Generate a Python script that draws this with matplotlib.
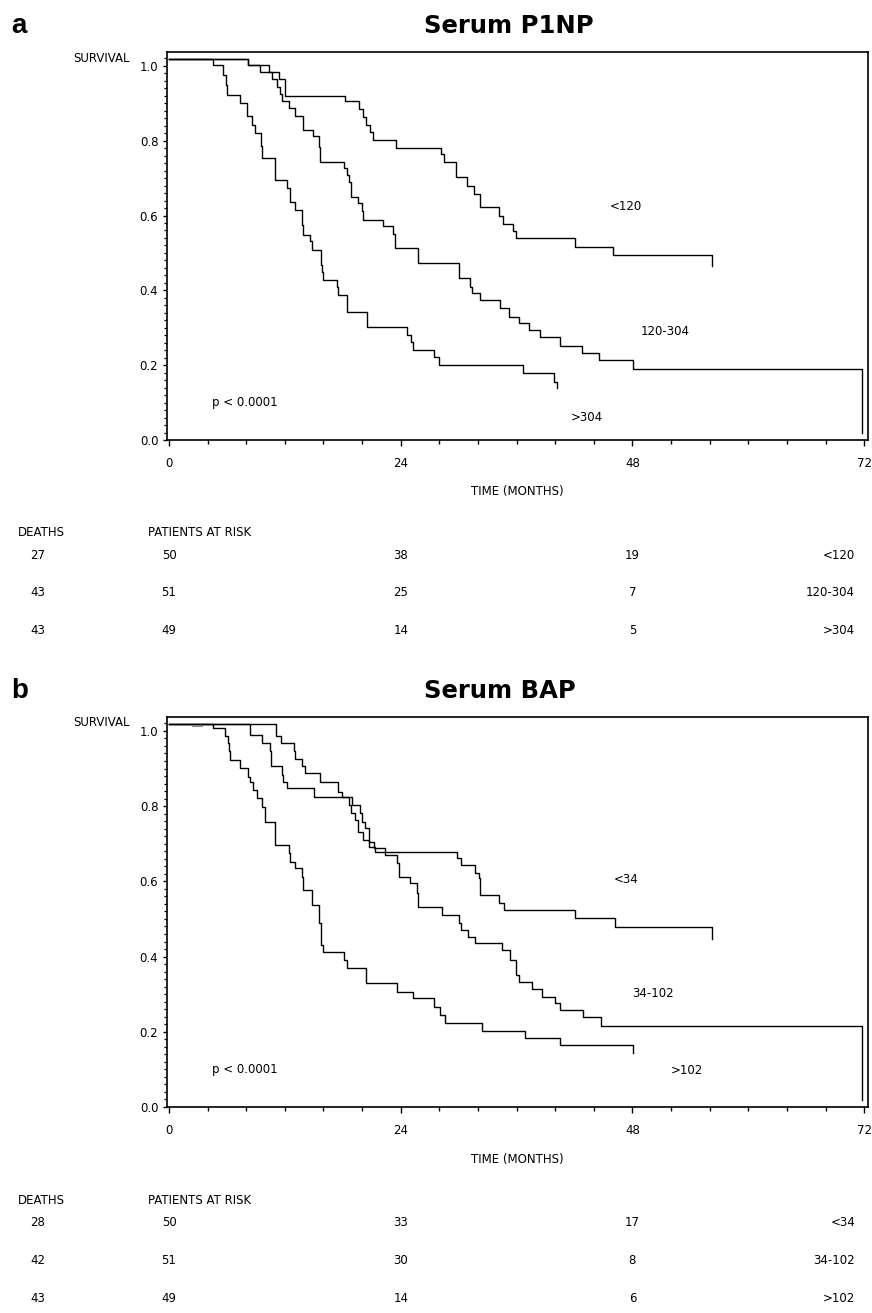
import matplotlib
matplotlib.use('Agg')
import matplotlib.pyplot as plt
import matplotlib.transforms as mtransforms
from matplotlib.ticker import MultipleLocator, FormatStrFormatter

# ------------------------------------------------------------------------
# Data (step curves: time in months, survival)

p1np_lt120_t = [0, 8.2, 10.4, 11.4, 12.0, 18.2, 19.7, 20.1, 20.4, 20.8, 21.1, 23.5, 28.2, 28.5,
                29.7, 30.9, 31.6, 32.2, 34.2, 34.6, 35.6, 35.9, 42.0, 46.0, 56.2]
p1np_lt120_s = [1.0, 0.984, 0.964, 0.945, 0.902, 0.886, 0.867, 0.844, 0.823, 0.804, 0.784, 0.762, 0.747, 0.724,
                0.683, 0.661, 0.640, 0.604, 0.581, 0.559, 0.540, 0.520, 0.497, 0.475, 0.446]

p1np_mid_t = [0, 8.2, 9.4, 10.7, 11.2, 11.5, 11.7, 12.4, 13.1, 13.9, 14.9, 15.5, 15.6, 18.1, 18.4,
              18.6, 18.9, 19.6, 20.0, 20.1, 22.2, 23.2, 23.4, 25.8, 30.0, 31.2, 31.4, 32.2, 34.3,
              35.2, 36.2, 37.3, 38.4, 40.5, 42.8, 44.5, 48.1, 71.8]
p1np_mid_s = [1.0, 0.984, 0.964, 0.945, 0.925, 0.905, 0.886, 0.868, 0.846, 0.810, 0.793, 0.765, 0.725, 0.708, 0.690,
              0.672, 0.631, 0.614, 0.592, 0.569, 0.552, 0.533, 0.494, 0.454, 0.414, 0.391, 0.373, 0.356, 0.333,
              0.311, 0.293, 0.275, 0.257, 0.232, 0.213, 0.196, 0.171, 0.0]

p1np_gt304_t = [0, 4.6, 5.6, 5.9, 6.0, 7.4, 8.05, 8.6, 8.9, 9.5, 9.6, 11.0, 12.2, 12.5, 13.1, 13.75,
                13.9, 14.6, 14.8, 15.7, 15.8, 16.0, 17.4, 17.5, 18.4, 20.5, 24.6, 25.1, 25.3, 27.4,
                28.0, 36.7, 39.9, 40.2]
p1np_gt304_s = [1.0, 0.984, 0.957, 0.930, 0.904, 0.882, 0.846, 0.824, 0.802, 0.767, 0.735, 0.676, 0.654, 0.618, 0.596, 0.556,
                0.529, 0.512, 0.490, 0.450, 0.431, 0.409, 0.391, 0.369, 0.324, 0.284, 0.262, 0.244, 0.222, 0.204,
                0.182, 0.160, 0.137, 0.119]

bap_lt34_t = [0, 8.4, 9.6, 10.5, 10.6, 11.7, 11.85, 12.2, 15.0, 18.6, 18.8, 19.3, 19.6, 20.1, 20.7,
              21.3, 29.8, 30.2, 31.7, 32.1, 32.2, 34.2, 34.7, 42.1, 46.2, 56.2]
bap_lt34_s = [1.0, 0.971, 0.948, 0.927, 0.887, 0.864, 0.846, 0.829, 0.805, 0.785, 0.762, 0.745, 0.713, 0.692, 0.673,
              0.660, 0.643, 0.625, 0.603, 0.589, 0.546, 0.523, 0.506, 0.483, 0.459, 0.427]

bap_mid_t = [0, 11.1, 11.6, 12.9, 13.1, 13.8, 14.1, 15.6, 17.5, 17.9, 19.0, 19.8, 20.0, 20.3, 20.7,
             21.2, 22.4, 23.6, 23.8, 25.0, 25.7, 25.8, 28.3, 30.0, 30.2, 31.0, 31.7, 34.5, 35.3,
             35.9, 36.2, 37.6, 38.6, 40.0, 40.5, 42.9, 44.7, 71.8]
bap_mid_s = [1.0, 0.967, 0.948, 0.927, 0.908, 0.887, 0.869, 0.846, 0.819, 0.806, 0.785, 0.762, 0.740, 0.722, 0.687,
             0.669, 0.652, 0.629, 0.594, 0.576, 0.550, 0.514, 0.492, 0.470, 0.453, 0.434, 0.417, 0.399, 0.373,
             0.332, 0.315, 0.296, 0.275, 0.257, 0.239, 0.222, 0.197, 0.0]

bap_gt102_t = [0, 4.6, 5.8, 6.1, 6.25, 6.3, 7.4, 8.2, 8.4, 8.7, 9.1, 9.6, 9.95, 11.0, 12.4, 12.5,
               13.1, 13.75, 13.9, 14.8, 15.5, 15.7, 15.9, 18.1, 18.4, 20.4, 23.6, 25.3, 27.4, 28.1,
               28.6, 32.4, 36.9, 40.5, 48.1]
bap_gt102_s = [1.0, 0.988, 0.967, 0.948, 0.927, 0.904, 0.882, 0.860, 0.846, 0.825, 0.802, 0.780, 0.740, 0.678, 0.656, 0.633,
               0.616, 0.594, 0.558, 0.519, 0.470, 0.413, 0.394, 0.372, 0.350, 0.310, 0.288, 0.271, 0.248, 0.227,
               0.204, 0.184, 0.166, 0.146, 0.124]

bap_censor_t = [2.4, 3.4]
bap_censor_s = [0.995, 0.995]

# risk tables
p1np_groups = ['<120', '120-304', '>304']
p1np_deaths = [27, 43, 43]
p1np_at_risk = [[50, 38, 19], [51, 25, 7], [49, 14, 5]]

bap_groups = ['<34', '34-102', '>102']
bap_deaths = [28, 42, 43]
bap_at_risk = [[50, 33, 17], [51, 30, 8], [49, 14, 6]]

risk_times = [0, 24, 48]

# ------------------------------------------------------------------------
# Layout (pixels of the 872 x 1313 page)

W, H = 872, 1313
fs = 8.5


def fy(ypx):
    return 1 - ypx / H


fig = plt.figure(figsize=(W / 100, H / 100), dpi=100)


def panel(top, bottom, letter, title, curves, labels, groups, deaths, at_risk, censor=None):
    ax = fig.add_axes([166.7 / W, fy(bottom), (868 - 166.7) / W, (bottom - top) / H])
    # curves sit a few pixels above the tick scale, as in the original plot
    lift = mtransforms.offset_copy(ax.transData, fig=fig, x=0, y=7, units='dots')
    for t, s in curves:
        ax.step(t, s, where='post', color='black', lw=1.0, transform=lift)
    if censor is not None:
        ax.plot(censor[0], censor[1], color='0.55', lw=0.8, transform=lift)

    ax.set_xlim(-0.24, 72.4)
    ax.set_ylim(0, 1.037)
    ax.set_xticks([0, 24, 48, 72])
    ax.xaxis.set_minor_locator(MultipleLocator(4))
    ax.set_yticks([0, 0.2, 0.4, 0.6, 0.8, 1.0])
    ax.yaxis.set_major_formatter(FormatStrFormatter('%.1f'))
    ax.yaxis.set_minor_locator(MultipleLocator(0.02))
    ax.tick_params(axis='x', which='major', direction='out', length=4, width=1.0, pad=8, labelsize=fs)
    ax.tick_params(axis='x', which='minor', direction='out', length=3, width=1.0)
    ax.tick_params(axis='y', which='major', direction='out', length=3, width=1.0, pad=3, labelsize=fs)
    ax.tick_params(axis='y', which='minor', direction='out', length=2, width=0.9)
    for sp in ax.spines.values():
        sp.set_linewidth(1.2)

    ax.text(0.5, -52 / (bottom - top), 'TIME (MONTHS)', transform=ax.transAxes,
            ha='center', va='center', fontsize=fs)
    for (x, y, txt) in labels:
        ax.text(x, y, txt, ha='center', va='center', fontsize=fs)
    ax.text(4.5, 0.1, 'p < 0.0001', ha='left', va='center', fontsize=fs)

    fig.text(130 / W, fy(top + 6), 'SURVIVAL', ha='right', va='center', fontsize=fs)
    fig.text(424 / W, fy(top - 26), title, ha='left', va='center', fontsize=17.5, fontweight='bold')
    fig.text(11 / W, fy(top - 26), letter, ha='left', va='center', fontsize=20, fontweight='bold',
             family='Liberation Sans')

    # risk table below the plot
    mix = mtransforms.blended_transform_factory(ax.transData, fig.transFigure)
    base = bottom + 93
    fig.text(18 / W, fy(base), 'DEATHS', ha='left', va='center', fontsize=fs)
    fig.text(148 / W, fy(base), 'PATIENTS AT RISK', ha='left', va='center', fontsize=fs)
    for i, g in enumerate(groups):
        yrow = base + 22 + i * 38
        fig.text(38 / W, fy(yrow), str(deaths[i]), ha='center', va='center', fontsize=fs)
        for tm, n in zip(risk_times, at_risk[i]):
            fig.text(tm, fy(yrow), str(n), ha='center', va='center', fontsize=fs, transform=mix)
        fig.text(855 / W, fy(yrow), g, ha='right', va='center', fontsize=fs)
    return ax


panel(52, 440, 'a', 'Serum P1NP',
      [(p1np_lt120_t, p1np_lt120_s), (p1np_mid_t, p1np_mid_s), (p1np_gt304_t, p1np_gt304_s)],
      [(47.3, 0.623, '<120'), (51.4, 0.289, '120-304'), (43.3, 0.059, '>304')],
      p1np_groups, p1np_deaths, p1np_at_risk)

panel(717, 1107, 'b', 'Serum BAP',
      [(bap_lt34_t, bap_lt34_s), (bap_mid_t, bap_mid_s), (bap_gt102_t, bap_gt102_s)],
      [(47.3, 0.606, '<34'), (50.1, 0.303, '34-102'), (53.6, 0.098, '>102')],
      bap_groups, bap_deaths, bap_at_risk, censor=(bap_censor_t, bap_censor_s))

fig.savefig('out.png', dpi=100)
